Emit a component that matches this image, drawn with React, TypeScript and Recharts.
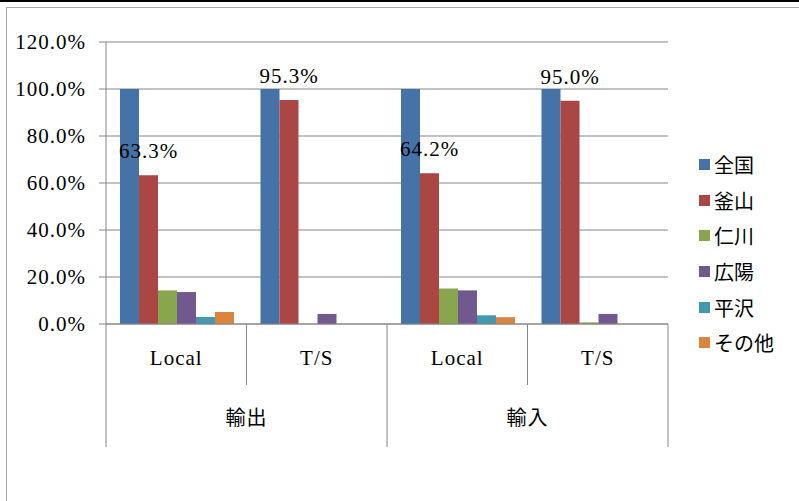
import { BarChart, Bar, XAxis, YAxis, CartesianGrid, Legend, LabelList } from 'recharts'

// categories (two-level x axis)
const subLabels = ['Local', 'T/S', 'Local', 'T/S']
const groupLabels = ['輸出', '輸出', '輸入', '輸入']

// share by port (%)
const zenkoku = [100, 100, 100, 100]
const busan = [63.3, 95.3, 64.2, 95.0]
const incheon = [14.3, 0, 15.1, 0.7]
const gwangyang = [13.6, 4.3, 14.3, 4.3]
const pyeongtaek = [3.0, 0, 3.7, 0]
const others = [5.1, 0, 2.9, 0]

const seriesNames = ['全国', '釜山', '仁川', '広陽', '平沢', 'その他']
const seriesColors = ['#4572A7', '#AA4643', '#89A54E', '#71588F', '#4198AF', '#DB843D']
const seriesValues = [zenkoku, busan, incheon, gwangyang, pyeongtaek, others]

const yTicks = [0, 20, 40, 60, 80, 100, 120]

const data = subLabels.map((sub, i) => {
  const row: Record<string, string | number> = { sub, group: groupLabels[i] }
  seriesNames.forEach((name, s) => {
    row[name] = seriesValues[s][i]
  })
  return row
})

const FONT = "'Liberation Serif', 'Noto Sans CJK JP', serif"
const LINE = '#868686'
const pct = (v: number) => `${Number(v).toFixed(1)}%`

// draws sub label, group label and the separator lines of the two-level axis
function CategoryTick(props: any) {
  const { x, y, payload, index } = props
  const half = payload.offset || 0
  const firstOfGroup = index === 0 || groupLabels[index - 1] !== groupLabels[index]
  const last = index === subLabels.length - 1
  let count = 0
  if (firstOfGroup) {
    for (let j = index; j < groupLabels.length && groupLabels[j] === groupLabels[index]; j++) count++
  }
  const left = x - half
  return (
    <g>
      <line x1={left} y1={y} x2={left} y2={y + (firstOfGroup ? 123 : 61)} stroke={LINE} />
      {last && <line x1={x + half} y1={y} x2={x + half} y2={y + 123} stroke={LINE} />}
      <text x={x} y={y + 34} textAnchor="middle" dominantBaseline="central" fontSize={21} fill="#000">
        {payload.value}
      </text>
      {firstOfGroup && (
        <text x={left + count * half} y={y + 94} textAnchor="middle" dominantBaseline="central" fontSize={20} fill="#000">
          {groupLabels[index]}
        </text>
      )}
    </g>
  )
}

function LegendBox(props: any) {
  const items = [...(props.payload || [])].sort(
    (a: any, b: any) => seriesNames.indexOf(a.value) - seriesNames.indexOf(b.value)
  )
  return (
    <div style={{ fontFamily: FONT, fontSize: 20, letterSpacing: 0 }}>
      {items.map((p: any) => (
        <div key={p.value} style={{ display: 'flex', alignItems: 'center', height: 35.6 }}>
          <span style={{ display: 'inline-block', width: 11, height: 11, background: p.color, marginRight: 4 }} />
          <span style={{ color: '#000' }}>{p.value}</span>
        </div>
      ))}
    </div>
  )
}

export default function App() {
  return (
    <div
      style={{
        position: 'absolute',
        left: 0,
        top: 0,
        width: 799,
        height: 501,
        overflow: 'hidden',
        background: '#fff',
        fontFamily: FONT,
        letterSpacing: '1px',
      }}
    >
      <div style={{ position: 'absolute', left: 0, top: 0, width: 799, height: 2, background: '#000' }} />
      <div
        style={{
          position: 'absolute',
          left: 6,
          top: 7,
          width: 820,
          height: 600,
          border: '1.5px solid #a6a6a6',
        }}
      />
      <div style={{ position: 'absolute', left: 0, top: 0 }}>
        <BarChart
          width={799}
          height={501}
          data={data}
          margin={{ top: 42, right: 131, left: 0, bottom: 53 }}
          barCategoryGap={14}
          barGap={0}
        >
          <CartesianGrid vertical={false} stroke={LINE} />
          <XAxis
            dataKey="sub"
            height={124}
            interval={0}
            tickLine={false}
            tickSize={0}
            tickMargin={0}
            axisLine={{ stroke: LINE }}
            tick={<CategoryTick />}
          />
          <YAxis
            domain={[0, 120]}
            ticks={yTicks}
            interval={0}
            width={106}
            tickSize={7}
            tickMargin={13}
            axisLine={{ stroke: LINE }}
            tickLine={{ stroke: LINE }}
            tick={{ fill: '#000', fontSize: 21 }}
            tickFormatter={pct}
          />
          <Legend
            layout="vertical"
            align="center"
            verticalAlign="middle"
            wrapperStyle={{ left: 699, top: 147, width: 100 }}
            content={<LegendBox />}
          />
          {seriesNames.map((name, s) => (
            <Bar key={name} dataKey={name} name={name} fill={seriesColors[s]} isAnimationActive={false}>
              {name === '釜山' && (
                <LabelList dataKey={name} position="top" offset={17} fontSize={21} fill="#000" formatter={pct} />
              )}
            </Bar>
          ))}
        </BarChart>
      </div>
    </div>
  )
}
